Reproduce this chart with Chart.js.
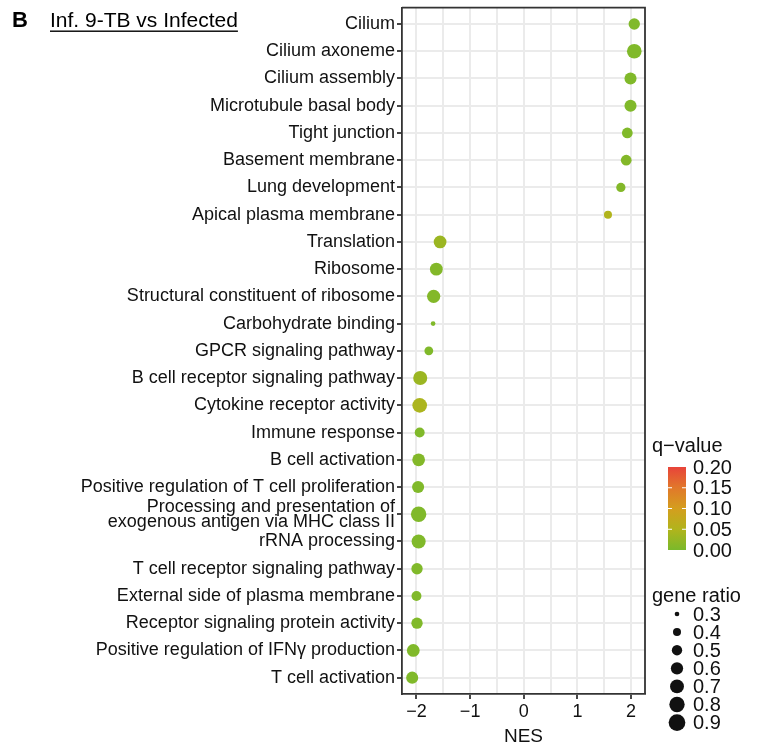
<!DOCTYPE html>
<html><head><meta charset="utf-8">
<script src="https://cdn.jsdelivr.net/npm/chart.js@4.4.1/dist/chart.umd.min.js"></script>
<style>html,body{margin:0;padding:0;background:#fff;}#wrap{width:759px;height:745px;position:relative}</style>
</head><body><div id="wrap"><canvas id="c" width="759" height="745"></canvas></div>
<script>
const terms = [
  "Cilium",
  "Cilium axoneme",
  "Cilium assembly",
  "Microtubule basal body",
  "Tight junction",
  "Basement membrane",
  "Lung development",
  "Apical plasma membrane",
  "Translation",
  "Ribosome",
  "Structural constituent of ribosome",
  "Carbohydrate binding",
  "GPCR signaling pathway",
  "B cell receptor signaling pathway",
  "Cytokine receptor activity",
  "Immune response",
  "B cell activation",
  "Positive regulation of T cell proliferation",
  "Processing and presentation of\nexogenous antigen via MHC class II",
  "rRNA processing",
  "T cell receptor signaling pathway",
  "External side of plasma membrane",
  "Receptor signaling protein activity",
  "Positive regulation of IFN\u03b3 production",
  "T cell activation"
];
const nes = [2.06, 2.06, 1.99, 1.99, 1.93, 1.91, 1.81, 1.57, -1.56, -1.63, -1.68, -1.69, -1.77,
  -1.93, -1.94, -1.94, -1.96, -1.97, -1.96, -1.96, -1.99, -2.00, -1.99, -2.06, -2.08];
const qValue = [0.005, 0.005, 0.005, 0.005, 0.005, 0.008, 0.008, 0.05, 0.03, 0.008, 0.008, 0.005, 0.005,
  0.03, 0.045, 0.005, 0.008, 0.005, 0.005, 0.005, 0.005, 0.005, 0.005, 0.005, 0.005];
const geneRatio = [0.55, 0.75, 0.59, 0.59, 0.52, 0.52, 0.45, 0.40, 0.63, 0.63, 0.66, 0.30, 0.43,
  0.71, 0.75, 0.48, 0.63, 0.59, 0.80, 0.71, 0.55, 0.48, 0.55, 0.63, 0.59];
const xTickValues = [-2, -1.5, -1, -0.5, 0, 0.5, 1, 1.5, 2];
const qTicks = [0.00, 0.05, 0.10, 0.15, 0.20];
const sizeTicks = [0.3, 0.4, 0.5, 0.6, 0.7, 0.8, 0.9];

const FONT = "'Liberation Sans', Arial, Helvetica, sans-serif";
const TXT = '#111';
const colorStops = [
  [0.00, [122, 185, 43]],
  [0.05, [177, 180, 28]],
  [0.10, [212, 158, 30]],
  [0.15, [225, 120, 42]],
  [0.20, [232, 68, 58]]
];
function qColor(q) {
  q = Math.max(0, Math.min(0.2, q));
  for (let i = 0; i < colorStops.length - 1; i++) {
    const [a, ca] = colorStops[i], [b, cb] = colorStops[i + 1];
    if (q <= b) {
      const t = (q - a) / (b - a);
      const c = ca.map((v, k) => Math.round(v + (cb[k] - v) * t));
      return `rgb(${c[0]},${c[1]},${c[2]})`;
    }
  }
  const c = colorStops[colorStops.length - 1][1];
  return `rgb(${c[0]},${c[1]},${c[2]})`;
}
function radiusFor(r) { return Math.sqrt(Math.max(0, 428 * (r - 0.249))) / 2; }
function fmtMinus(v) { return v < 0 ? '\u2212' + Math.abs(v) : String(v); }

const extras = {
  id: 'extras',
  afterDraw(chart) {
    const ctx = chart.ctx, a = chart.chartArea;
    ctx.save();
    // top & right border
    ctx.strokeStyle = '#333'; ctx.lineWidth = 1.8;
    ctx.beginPath();
    ctx.moveTo(a.left, a.top); ctx.lineTo(a.right, a.top); ctx.lineTo(a.right, a.bottom);
    ctx.stroke();
    // panel title
    ctx.fillStyle = '#000';
    ctx.textBaseline = 'alphabetic'; ctx.textAlign = 'left';
    ctx.font = `bold 22px ${FONT}`;
    ctx.fillText('B', 12, 27);
    ctx.font = `21px ${FONT}`;
    const title = 'Inf. 9-TB vs Infected';
    ctx.fillText(title, 50, 27);
    const tw = ctx.measureText(title).width;
    ctx.fillRect(50, 30.5, tw, 1.4);
    // x axis title
    ctx.fillStyle = TXT;
    ctx.font = `19px ${FONT}`;
    ctx.textAlign = 'center'; ctx.textBaseline = 'alphabetic';
    ctx.fillText('NES', (a.left + a.right) / 2, 742);
    // q-value legend
    ctx.textAlign = 'left';
    ctx.font = `20px ${FONT}`;
    ctx.fillText('q\u2212value', 652, 452);
    const bx = 668, bw = 18, btop = 467, bbot = 550;
    const g = ctx.createLinearGradient(0, bbot, 0, btop);
    colorStops.forEach(([q, c]) => g.addColorStop(q / 0.2, `rgb(${c[0]},${c[1]},${c[2]})`));
    ctx.fillStyle = g;
    ctx.fillRect(bx, btop, bw, bbot - btop);
    ctx.strokeStyle = '#fff'; ctx.lineWidth = 1;
    ctx.fillStyle = TXT; ctx.textBaseline = 'middle';
    qTicks.forEach(q => {
      const y = bbot - (q / 0.2) * (bbot - btop);
      if (q > 0 && q < 0.2) {
        ctx.beginPath(); ctx.moveTo(bx + bw - 4, y); ctx.lineTo(bx + bw, y); ctx.stroke();
        ctx.beginPath(); ctx.moveTo(bx, y); ctx.lineTo(bx + 4, y); ctx.stroke();
      }
      ctx.fillText(q.toFixed(2), 693, y + 1);
    });
    // gene ratio legend
    ctx.textBaseline = 'alphabetic';
    ctx.fillText('gene ratio', 652, 602);
    ctx.font = `20px ${FONT}`;
    ctx.textBaseline = 'middle';
    sizeTicks.forEach((s, i) => {
      const y = 614 + i * 18.1;
      ctx.fillStyle = '#111';
      ctx.beginPath(); ctx.arc(677, y, radiusFor(s), 0, Math.PI * 2); ctx.fill();
      ctx.fillText(s.toFixed(1), 693, y + 1);
    });
    ctx.restore();
  }
};

new Chart(document.getElementById('c'), {
  type: 'scatter',
  data: {
    datasets: [{
      data: terms.map((t, i) => ({ x: nes[i], y: i })),
      pointRadius: c => radiusFor(geneRatio[c.dataIndex]),
      pointHoverRadius: c => radiusFor(geneRatio[c.dataIndex]),
      backgroundColor: c => qColor(qValue[c.dataIndex]),
      borderWidth: 0
    }]
  },
  options: {
    responsive: false,
    animation: false,
    devicePixelRatio: 1,
    layout: { padding: { top: 6, right: 114, left: 0, bottom: 0 } },
    plugins: { legend: { display: false }, tooltip: { enabled: false }, title: { display: false } },
    scales: {
      x: {
        type: 'linear', min: -2.27, max: 2.26,
        afterBuildTicks: s => { s.ticks = xTickValues.map(v => ({ value: v })); },
        afterFit: s => { s.height = 51; s.paddingLeft = 0; s.paddingRight = 0; },
        ticks: {
          autoSkip: false, maxRotation: 0, minRotation: 0, padding: 2,
          color: TXT, font: { family: FONT, size: 18 },
          callback: v => Number.isInteger(v) ? fmtMinus(v) : ''
        },
        grid: {
          color: '#EBEBEB', lineWidth: 2, tickLength: 5, tickWidth: 1.8,
          tickColor: c => (c.tick && Number.isInteger(c.tick.value)) ? '#333' : 'rgba(0,0,0,0)'
        },
        border: { color: '#333', width: 1.8 }
      },
      y: {
        type: 'linear', reverse: true, min: -0.6, max: 24.6,
        afterBuildTicks: s => { s.ticks = terms.map((_, i) => ({ value: i })); },
        afterFit: s => { s.width = 402; s.paddingTop = 0; s.paddingBottom = 0; },
        ticks: {
          autoSkip: false, padding: 2, color: TXT,
          font: { family: FONT, size: 18, lineHeight: 0.85 },
          callback: v => {
            const t = terms[v];
            if (t === undefined) return '';
            return t.includes('\n') ? t.split('\n') : t;
          }
        },
        grid: { color: '#EBEBEB', lineWidth: 2, tickLength: 5, tickWidth: 1.8, tickColor: '#333' },
        border: { color: '#333', width: 1.8 }
      }
    }
  },
  plugins: [extras]
});
</script>
</body></html>
